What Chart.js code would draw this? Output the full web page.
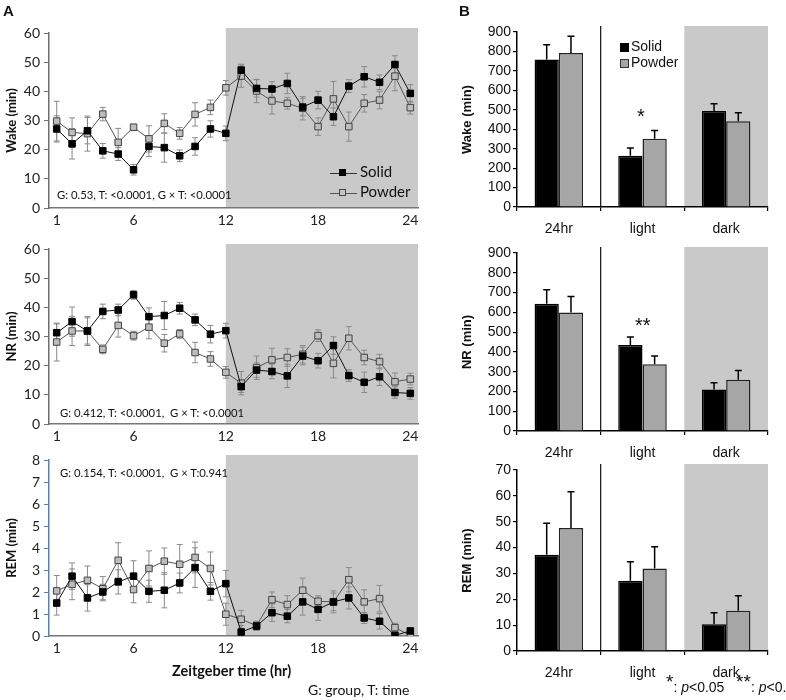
<!DOCTYPE html>
<html><head><meta charset="utf-8">
<script src="https://cdn.jsdelivr.net/npm/chart.js@4/dist/chart.umd.min.js"></script>
<style>
body{margin:0;background:#fff;width:786px;height:700px;position:relative;overflow:hidden;font-family:Lato,sans-serif;color:#111}
canvas{position:absolute}
.t{position:absolute;white-space:nowrap;line-height:1}
.ar{font-family:'Liberation Sans',Arial,sans-serif}
.lg{display:inline-block;vertical-align:middle;position:relative;width:27px;height:1px;background:#333;margin-right:3px}
.lg i{position:absolute;left:9px;top:-4px;width:7px;height:7px;box-sizing:border-box}
.sq{display:inline-block;width:9px;height:9px;box-sizing:border-box;margin-right:2px;vertical-align:-1px}
</style></head><body>
<canvas id="lw" width="430" height="235" style="left:0;top:0"></canvas>
<canvas id="ln" width="430" height="235" style="left:0;top:216px"></canvas>
<canvas id="lr" width="430" height="236" style="left:0;top:427px"></canvas>
<canvas id="bw" width="326" height="237" style="left:460px;top:0"></canvas>
<canvas id="bn" width="326" height="240" style="left:460px;top:221px"></canvas>
<canvas id="br" width="326" height="243" style="left:460px;top:438px"></canvas>

<div class="t ar" style="left:3px;top:3px;font-weight:bold;font-size:15px">A</div>
<div class="t ar" style="left:459px;top:3px;font-weight:bold;font-size:15px">B</div>

<div class="t" style="left:57px;top:189px;font-size:11.3px">G: 0.53, T: &lt;0.0001, G × T: &lt;0.0001</div>
<div class="t" style="left:60px;top:407px;font-size:11.3px">G: 0.412, T: &lt;0.0001,&nbsp; G × T: &lt;0.0001</div>
<div class="t" style="left:60px;top:467px;font-size:11.3px">G: 0.154, T: &lt;0.0001,&nbsp; G × T:0.941</div>

<div class="t" style="left:330px;top:164px;font-size:15px"><span class="lg"><i style="background:#000;border:1px solid #000"></i></span>Solid</div>
<div class="t" style="left:330px;top:184px;font-size:15px"><span class="lg" style="background:#555"><i style="background:#c4c4c4;border:1px solid #444"></i></span>Powder</div>

<div class="t" style="left:172px;top:664px;font-size:14.5px;font-weight:bold">Zeitgeber time (hr)</div>
<div class="t" style="left:308px;top:683px;font-size:14px">G: group, T: time</div>

<div class="t ar" style="left:620px;top:39px;font-size:14px"><span class="sq" style="background:#000"></span>Solid</div>
<div class="t ar" style="left:620px;top:55px;font-size:14px"><span class="sq" style="background:#a6a6a6;border:1px solid #333"></span>Powder</div>
<div class="t ar" style="left:637px;top:106px;font-size:20px">*</div>
<div class="t ar" style="left:635px;top:315px;font-size:20px">**</div>
<div class="t ar" style="left:666px;top:676px;font-size:14px"><span style="font-size:19px;position:relative;top:-4px">*</span>: <i>p</i>&lt;0.05&nbsp;&nbsp;&nbsp;<span style="font-size:19px;position:relative;top:-4px">**</span>: <i>p</i>&lt;0.01</div>

<script>
// ---------- data ----------
const hours = [1,2,3,4,5,6,7,8,9,10,11,12,13,14,15,16,17,18,19,20,21,22,23,24];
const hourTicks = [1,6,12,18,24];
const darkStart = 12;

const wakeSolid     = [27.1,22.0,26.5,19.6,18.5,13.1,21.1,20.7,17.9,21.1,27.1,25.6,47.3,41.0,40.8,42.7,34.6,37.0,31.3,41.8,45.0,43.1,49.2,39.3];
const wakeSolidErr  = [4.5,5.2,4.5,2.5,2.2,1.8,3.5,5.0,2.0,3.0,2.8,2.5,2.0,3.0,2.5,3.5,3.0,3.0,3.0,2.2,3.5,2.5,3.0,3.0];
const wakePowder    = [29.8,25.9,25.5,32.2,22.5,27.7,23.7,29.0,25.6,32.1,34.5,41.2,45.2,40.1,36.7,35.9,34.2,27.9,37.4,27.9,35.9,37.0,45.2,34.4];
const wakePowderErr = [6.8,5.0,6.0,2.3,4.8,1.0,4.5,3.3,2.0,4.0,2.5,2.5,3.8,4.0,4.5,2.0,4.0,3.0,6.0,5.0,3.0,3.0,5.0,2.2];

const nrSolid     = [31.3,35.1,31.9,38.6,39.1,44.3,36.8,37.2,39.7,35.7,30.8,32.0,12.8,18.5,18.0,16.5,23.3,21.7,26.9,16.6,14.3,16.2,10.8,10.5];
const nrSolidErr  = [3.0,5.0,4.5,2.5,2.0,1.5,3.0,4.8,2.0,2.0,3.0,2.5,2.0,2.5,2.5,4.0,3.0,2.5,3.0,2.0,3.5,3.0,2.0,2.0];
const nrPowder    = [28.1,31.9,31.9,25.6,33.8,30.3,33.2,27.7,30.9,24.5,22.3,17.7,14.0,19.3,22.0,22.8,23.9,30.3,20.8,29.4,22.8,21.4,14.5,15.4];
const nrPowderErr = [6.5,5.0,5.0,1.5,4.0,1.5,4.0,3.0,1.5,3.5,2.5,2.0,4.0,4.0,4.0,3.0,3.0,2.0,5.0,4.0,2.5,2.5,3.0,2.0];

const remSolid     = [1.50,2.72,1.73,2.00,2.46,2.72,2.03,2.08,2.41,3.11,2.03,2.38,0.18,0.45,1.06,0.90,1.55,1.21,1.55,1.73,0.82,0.67,0.03,0.23];
const remSolidErr  = [0.55,0.60,0.60,0.35,0.55,0.70,0.50,0.80,0.45,0.90,0.40,0.60,0.30,0.20,0.40,0.30,0.60,0.50,0.40,0.50,0.25,0.35,0.10,0.10];
const remPowder    = [2.05,2.35,2.53,2.15,3.44,2.11,3.07,3.40,3.26,3.57,3.07,0.99,0.76,0.47,1.65,1.43,2.08,1.58,1.55,2.56,1.55,1.70,0.38,0.03];
const remPowderErr = [0.70,0.70,0.65,0.55,0.80,0.60,0.80,0.60,0.90,0.70,0.75,0.50,0.40,0.20,0.35,0.40,0.55,0.25,0.50,0.55,0.55,0.60,0.20,0.05];

const periods = ['24hr','light','dark'];
const barWakeSolid = [758,264,494], barWakeSolidErr = [77,39,37];
const barWakePowder = [792,351,441], barWakePowderErr = [86,43,44];
const barNrSolid = [643,435,210], barNrSolidErr = [71,40,34];
const barNrPowder = [599,338,259], barNrPowderErr = [81,41,47];
const barRemSolid = [37.2,27.2,10.3], barRemSolidErr = [12.2,7.3,4.5];
const barRemPowder = [47.6,31.9,15.6], barRemPowderErr = [14.0,8.4,5.8];

// ---------- plugins ----------
function drawErrors(chart, o){
  const ctx = chart.ctx, ys = chart.scales.y;
  chart.data.datasets.forEach((ds, i) => {
    const meta = chart.getDatasetMeta(i);
    (ds.errors || []).forEach((e, j) => {
      const el = meta.data[j]; if (!el) return;
      const d = ds.data[j]; const v = (typeof d === 'object') ? d.y : d;
      const x = el.x;
      const yt = ys.getPixelForValue(v + e);
      const yb = o.mode === 'both' ? ys.getPixelForValue(Math.max(v - e, ys.min)) : ys.getPixelForValue(v);
      ctx.save();
      ctx.strokeStyle = o.color; ctx.lineWidth = o.width;
      ctx.beginPath();
      ctx.moveTo(x, yt); ctx.lineTo(x, yb);
      ctx.moveTo(x - o.cap, yt); ctx.lineTo(x + o.cap, yt);
      if (o.mode === 'both' && v - e > ys.min) { ctx.moveTo(x - o.cap, yb); ctx.lineTo(x + o.cap, yb); }
      ctx.stroke(); ctx.restore();
    });
  });
}
const shade = {
  id: 'shade',
  beforeDraw(chart, a, o){
    if (!o || o.from === undefined) return;
    const {ctx, chartArea, scales} = chart;
    const x0 = scales.x.getPixelForValue(o.from);
    ctx.save();
    ctx.fillStyle = '#c9c9c9';
    ctx.fillRect(x0, chartArea.top - o.ext, chartArea.right - x0, chartArea.bottom - chartArea.top + o.ext);
    if (o.sep !== undefined) {
      const xs = scales.x.getPixelForValue(o.sep);
      ctx.strokeStyle = '#111'; ctx.lineWidth = 1.2;
      ctx.beginPath(); ctx.moveTo(xs, chartArea.top - o.ext); ctx.lineTo(xs, chartArea.bottom); ctx.stroke();
    }
    ctx.restore();
  }
};
const errorBars = {
  id: 'errorBars',
  beforeDatasetsDraw(chart, a, o){ if (o && o.mode === 'both') drawErrors(chart, o); },
  afterDatasetsDraw(chart, a, o){ if (o && o.mode === 'up') drawErrors(chart, o); }
};
Chart.register(shade, errorBars);

// ---------- line charts ----------
function lineChart(id, s, se, p, pe, yMax, yStep, title, axisColor){
  return new Chart(document.getElementById(id), {
    type: 'line',
    data: { datasets: [
      { label:'Solid', data: hours.map((h,i)=>({x:h, y:s[i]})), errors: se,
        borderColor:'#111', borderWidth:1, pointStyle:'rect', pointRadius:4.6,
        pointBackgroundColor:'#000', pointBorderColor:'#000', pointBorderWidth:1 },
      { label:'Powder', data: hours.map((h,i)=>({x:h, y:p[i]})), errors: pe,
        borderColor:'#555', borderWidth:1, pointStyle:'rect', pointRadius:4.6,
        pointBackgroundColor:'#bdbdbd', pointBorderColor:'#444', pointBorderWidth:1 }
    ]},
    options: {
      responsive:false, animation:false, events:[],
      layout:{ padding:{ top:33, right:12, left:0, bottom:0 } },
      plugins:{ legend:{display:false}, tooltip:{enabled:false},
        shade:{ from: darkStart, ext: 5 },
        errorBars:{ mode:'both', color:'#8a8a8a', width:1, cap:3 } },
      scales:{
        x:{ type:'linear', min:0.5, max:24.5,
          afterBuildTicks(sc){ sc.ticks = hourTicks.map(v=>({value:v})); },
          afterFit(sc){ sc.height = 27; },
          grid:{ drawOnChartArea:false, drawTicks:false },
          border:{ color:'#777', width:1.5 },
          ticks:{ padding:4, color:'#222', font:{family:'Lato', size:14}, autoSkip:false, maxRotation:0 } },
        y:{ min:0, max:yMax, afterFit(sc){ sc.width = 49; },
          ticks:{ stepSize: yStep, autoSkip:false, padding:4, color:'#222', font:{family:'Lato', size:14} },
          grid:{ drawOnChartArea:false, tickLength:5, color:axisColor },
          border:{ color:axisColor, width:1.5 },
          title:{ display:true, text:title, color:'#111', font:{family:'Lato', size:13, weight:'bold'}, padding:{top:4, bottom:0} } }
      }
    }
  });
}
lineChart('lw', wakeSolid, wakeSolidErr, wakePowder, wakePowderErr, 60, 10, 'Wake (min)', '#6e6e6e');
lineChart('ln', nrSolid, nrSolidErr, nrPowder, nrPowderErr, 60, 10, 'NR (min)', '#6e6e6e');
lineChart('lr', remSolid, remSolidErr, remPowder, remPowderErr, 8, 1, 'REM (min)', '#5b7fb3');

// ---------- bar charts ----------
function barChart(id, s, se, p, pe, yMax, step, title){
  return new Chart(document.getElementById(id), {
    type: 'bar',
    data: { labels: periods, datasets: [
      { label:'Solid', data:s, errors:se, backgroundColor:'#000', borderColor:'#000', borderWidth:1.5,
        categoryPercentage:0.58, barPercentage:1 },
      { label:'Powder', data:p, errors:pe, backgroundColor:'#a6a6a6', borderColor:'#222', borderWidth:1.5,
        categoryPercentage:0.58, barPercentage:1 }
    ]},
    options: {
      responsive:false, animation:false, events:[],
      layout:{ padding:{ top:32, right:18, left:0, bottom:0 } },
      plugins:{ legend:{display:false}, tooltip:{enabled:false},
        shade:{ from: 1.5, sep: 0.5, ext: 6 },
        errorBars:{ mode:'up', color:'#000', width:1.5, cap:3.5 } },
      scales:{
        x:{ afterFit(sc){ sc.height = 30; },
          grid:{ offset:true, drawOnChartArea:false, drawTicks:true, tickLength:4, color:'#000', lineWidth:1.2 },
          border:{ color:'#000', width:1.5 },
          ticks:{ padding:10, color:'#111', font:{family:'Liberation Sans', size:14} } },
        y:{ min:0, max:yMax, afterFit(sc){ sc.width = 57; },
          ticks:{ stepSize:step, autoSkip:false, padding:2, color:'#111', font:{family:'Liberation Sans', size:14} },
          grid:{ drawOnChartArea:false, tickLength:4, color:'#000', lineWidth:1.2 },
          border:{ color:'#000', width:1.5 },
          title:{ display:true, text:title, color:'#111', font:{family:'Liberation Sans', size:13, weight:'bold'}, padding:{top:0, bottom:0} } }
      }
    }
  });
}
barChart('bw', barWakeSolid, barWakeSolidErr, barWakePowder, barWakePowderErr, 900, 100, 'Wake (min)');
barChart('bn', barNrSolid, barNrSolidErr, barNrPowder, barNrPowderErr, 900, 100, 'NR (min)');
barChart('br', barRemSolid, barRemSolidErr, barRemPowder, barRemPowderErr, 70, 10, 'REM (min)');
</script>
</body></html>
